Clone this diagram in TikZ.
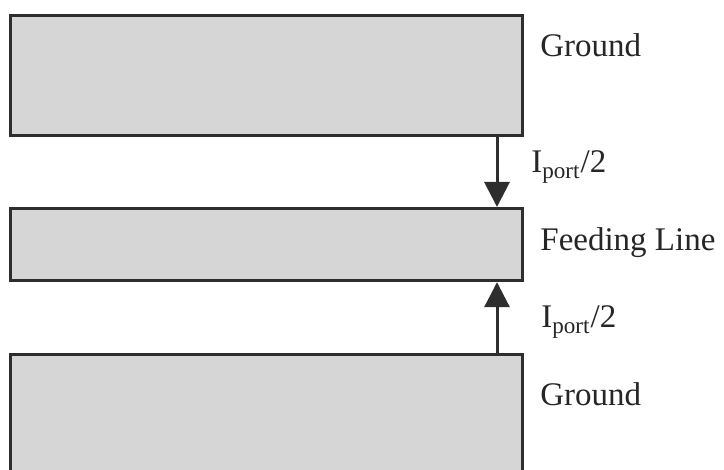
\documentclass[tikz,border=0pt]{standalone}
\usepackage{fontspec}
\setmainfont{Liberation Serif}
\usetikzlibrary{arrows.meta,positioning}
\definecolor{plategray}{HTML}{D6D6D6}
\definecolor{edgegray}{HTML}{2E2E2E}

\begin{document}
\begin{tikzpicture}[x=0.5pt, y=-0.5pt,
        plate/.style={draw=edgegray, line width=1.6pt, fill=plategray, inner sep=0pt, anchor=north west, minimum width=256pt},
        lbl/.style={anchor=base west, inner sep=0pt, text=black!85, font=\fontsize{16.5}{19}\selectfont},
        current/.style={-{Triangle[length=12.5pt, width=12.5pt]}, line width=1.5pt, draw=edgegray}
    ]
    \clip (0,0) rectangle (724,470);

    % Platten
    \node[plate, minimum height=60pt] (gtop) at (9,14) {};
    \node[plate, minimum height=36pt] (feed) at (9,207) {};
    \node[plate, minimum height=70pt] (gbot) at (9,353) {};

    % Beschriftung
    \node[lbl] (tgtop) at (540,57) {Ground};
    \node[lbl] (tfeed) at (540,251) {Feeding Line};
    \node[lbl] (tgbot) at (540,406) {Ground};

    % Stroeme
    \coordinate (ax) at (497,0);
    \draw[current] (gtop.south -| ax) -- (feed.north -| ax);
    \draw[current] (gbot.north -| ax) -- (feed.south -| ax);
    \node[lbl] (itop) at (531,173) {I\textsubscript{port}/2};
    \node[lbl] (ibot) at (541,328) {I\textsubscript{port}/2};

\end{tikzpicture}
\end{document}
